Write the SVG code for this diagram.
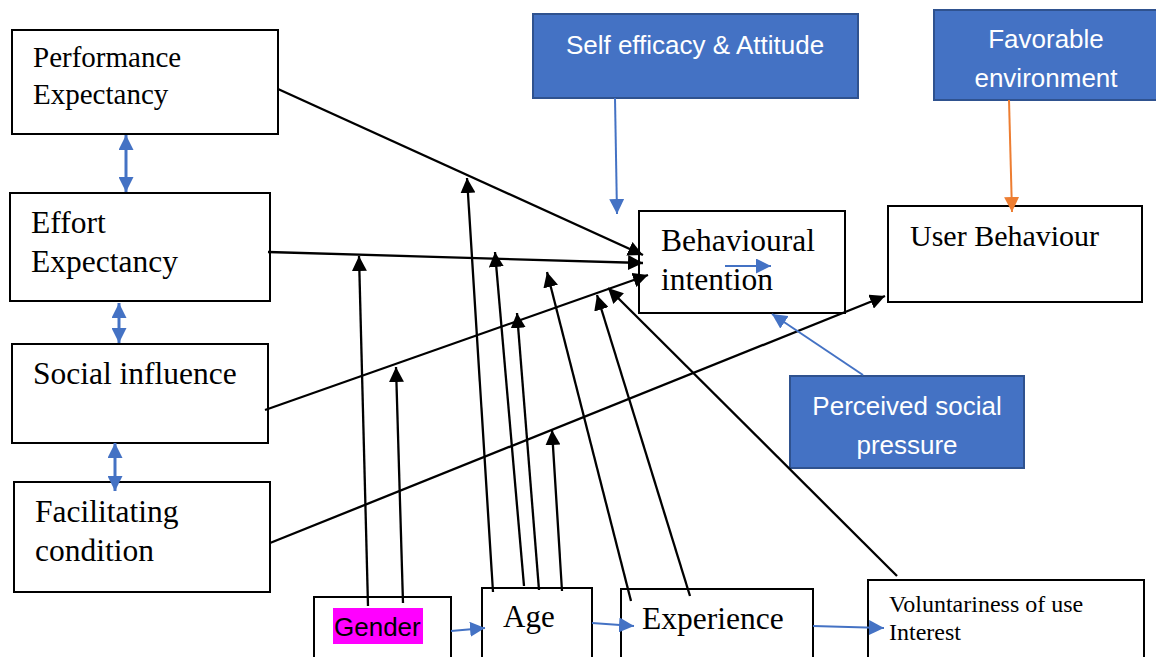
<svg xmlns="http://www.w3.org/2000/svg" width="1156" height="657" viewBox="0 0 1156 657">
<style>
.box{fill:#fff;stroke:#000;stroke-width:2}
.bbox{fill:#4472C4;stroke:#2F528F;stroke-width:2}
.t{font-family:"Liberation Serif","Times New Roman",serif;fill:#000}
.s{font-family:"Liberation Sans",Arial,sans-serif;font-size:26px}
.w{fill:#fff;text-anchor:middle}
.k{stroke:#000;stroke-width:2.3;fill:none;marker-end:url(#ak)}
.b{stroke:#4472C4;stroke-width:2;fill:none;marker-end:url(#ab)}
.bd{stroke:#4472C4;stroke-width:3;fill:none;marker-end:url(#ab2);marker-start:url(#ab2)}
.o{stroke:#ED7D31;stroke-width:2;fill:none;marker-end:url(#ao)}
</style>
<defs>
<marker id="ak" viewBox="0 0 10 10" refX="10" refY="5" markerWidth="15" markerHeight="15" markerUnits="userSpaceOnUse" orient="auto" preserveAspectRatio="none"><path d="M0,0 L10,5 L0,10 z" fill="#000"/></marker>
<marker id="ab" viewBox="0 0 10 10" refX="10" refY="5" markerWidth="15" markerHeight="15" markerUnits="userSpaceOnUse" orient="auto" preserveAspectRatio="none"><path d="M0,0 L10,5 L0,10 z" fill="#4472C4"/></marker>
<marker id="ab2" viewBox="0 0 10 10" refX="10" refY="5" markerWidth="15" markerHeight="15" markerUnits="userSpaceOnUse" orient="auto-start-reverse" preserveAspectRatio="none"><path d="M0,0 L10,5 L0,10 z" fill="#4472C4"/></marker>
<marker id="ao" viewBox="0 0 10 10" refX="10" refY="5" markerWidth="15" markerHeight="15" markerUnits="userSpaceOnUse" orient="auto" preserveAspectRatio="none"><path d="M0,0 L10,5 L0,10 z" fill="#ED7D31"/></marker>
</defs>
<rect width="1156" height="657" fill="#fff"/>

<g id="performance-expectancy"><rect class="box" x="12" y="30" width="266" height="104"/><text class="t" font-size="29" x="33" y="67">Performance</text><text class="t" font-size="29" x="33" y="104">Expectancy</text></g>
<g id="effort-expectancy"><rect class="box" x="10" y="193" width="260" height="108"/><text class="t" font-size="31.5" x="31" y="233">Effort</text><text class="t" font-size="31.5" x="31" y="272">Expectancy</text></g>
<g id="social-influence"><rect class="box" x="12" y="344" width="256" height="99"/><text class="t" font-size="31.5" x="33" y="384">Social influence</text></g>
<g id="facilitating-condition"><rect class="box" x="14" y="482" width="256" height="110"/><text class="t" font-size="31.5" x="35" y="522">Facilitating</text><text class="t" font-size="31.5" x="35" y="561">condition</text></g>
<g id="gender"><rect class="box" x="314" y="597" width="137" height="70"/><rect x="333" y="608" width="90" height="36" fill="#FF00FF"/><text class="s" x="334" y="636" fill="#000">Gender</text></g>
<g id="age"><rect class="box" x="482" y="588" width="110" height="79"/><text class="t" font-size="31" x="503" y="627">Age</text></g>
<g id="experience"><rect class="box" x="621" y="589" width="192" height="78"/><text class="t" font-size="31.5" x="642" y="629">Experience</text></g>
<g id="voluntariness"><rect class="box" x="868" y="580" width="276" height="87"/><text class="t" font-size="24" x="889" y="612">Voluntariness of use</text><text class="t" font-size="24" x="889" y="640">Interest</text></g>
<g id="behavioural-intention"><rect class="box" x="639" y="211" width="206" height="102"/><text class="t" font-size="31.5" x="661" y="251">Behavioural</text><text class="t" font-size="31.5" x="661" y="290">intention</text></g>
<g id="user-behaviour"><rect class="box" x="888" y="206" width="254" height="96"/><text class="t" font-size="30" x="910" y="246">User Behaviour</text></g>
<g id="self-efficacy"><rect class="bbox" x="533" y="14" width="325" height="84"/><text class="s w" x="695" y="54" font-size="27">Self efficacy &amp; Attitude</text></g>
<g id="favorable-environment"><rect class="bbox" x="934" y="10" width="230" height="90"/><text class="s w" x="1046" y="48">Favorable</text><text class="s w" x="1046" y="87">environment</text></g>
<g id="perceived-social-pressure"><rect class="bbox" x="790" y="376" width="234" height="92"/><text class="s w" x="907" y="415">Perceived social</text><text class="s w" x="907" y="454">pressure</text></g>

<g id="connectors">
<line class="bd" x1="126" y1="135" x2="126" y2="192"/>
<line class="bd" x1="119" y1="303" x2="119" y2="343"/>
<line class="bd" x1="115" y1="443" x2="115" y2="491"/>
<line class="k" x1="278" y1="89" x2="643" y2="255"/>
<line class="k" x1="268" y1="252" x2="643" y2="263"/>
<line class="k" x1="265" y1="410" x2="648" y2="275"/>
<line class="k" x1="270" y1="543" x2="885" y2="296"/>
<line class="k" x1="368" y1="606" x2="359" y2="256"/>
<line class="k" x1="403" y1="603" x2="396" y2="367"/>
<line class="k" x1="493" y1="592" x2="467" y2="178"/>
<line class="k" x1="524" y1="586" x2="495" y2="252"/>
<line class="k" x1="539" y1="590" x2="517" y2="313"/>
<line class="k" x1="562" y1="591" x2="552" y2="430"/>
<line class="k" x1="631" y1="601" x2="547" y2="272"/>
<line class="k" x1="690" y1="596" x2="597" y2="295"/>
<line class="k" x1="897" y1="576" x2="608" y2="288"/>
<line class="b" x1="615" y1="98" x2="617" y2="214"/>
<line class="o" x1="1009" y1="100" x2="1012" y2="212"/>
<line class="b" x1="863" y1="375" x2="772" y2="314"/>
<line class="b" x1="725" y1="266" x2="771" y2="266"/>
<line class="b" x1="451" y1="631" x2="485" y2="628"/>
<line class="b" x1="592" y1="623" x2="634" y2="626"/>
<line class="b" x1="813" y1="626" x2="884" y2="628"/>
</g>
</svg>
